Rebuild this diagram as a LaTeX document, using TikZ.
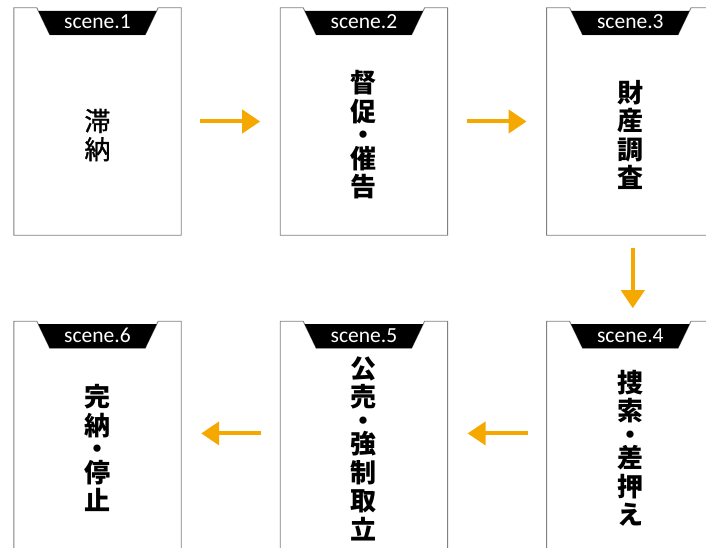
\documentclass[tikz,border=0pt]{standalone}
\usepackage{fontspec}
\setmainfont{Carlito}
\newfontfamily\jpfont{Noto Sans CJK JP}
\newfontfamily\jpmid[FakeBold=1.2]{Noto Sans CJK JP}
\usepackage{tikz}
\usetikzlibrary{%
arrows.meta,%
positioning,%
calc}

\definecolor{flowamber}{RGB}{245,168,0}
\definecolor{framegray}{RGB}{128,128,128}

\tikzset{
  scenebox/.style={rectangle,minimum width=167pt,minimum height=227pt,inner sep=0pt},
  scenetag/.style={text=white,font=\fontsize{21.5}{21.5}\selectfont,inner sep=0pt,anchor=base},
  tate/.style={font=\jpfont\bfseries\fontsize{26}{28.5}\selectfont,align=center,inner sep=0pt},
  flow/.style={draw=flowamber,line width=4pt,-{Triangle[length=18pt,width=23pt]}},
}

\begin{document}
\begin{tikzpicture}[x=1pt,y=-1pt]
\useasboundingbox (0,0) rectangle (706,548);
\clip (0,0) rectangle (706,548);
% the six scenes
\node[scenebox] (b1) at (97.5,121.5) {};
\node[scenebox,right=99pt of b1] (b2) {};
\node[scenebox,right=99pt of b2] (b3) {};
\node[scenebox,below=86pt of b3] (b4) {};
\node[scenebox,left=99pt of b4] (b5) {};
\node[scenebox,left=99pt of b5] (b6) {};
% frames with the cut tab
\foreach \b/\n in {b1/1,b2/2,b3/3,b4/4,b5/5,b6/6}{
  \draw[framegray,line width=0.9pt] ([xshift=23pt]\b.north west) -- (\b.north west)
    -- (\b.south west) -- (\b.south east) -- (\b.north east)
    -- ([xshift=-23pt]\b.north east) -- ([xshift=-36pt,yshift=-27pt]\b.north east)
    -- ([xshift=36pt,yshift=-27pt]\b.north west) -- cycle;
  \fill[black] ([xshift=24.5pt,yshift=-3pt]\b.north west) -- ([xshift=-24.5pt,yshift=-3pt]\b.north east)
    -- ([xshift=-36pt,yshift=-27pt]\b.north east) -- ([xshift=36pt,yshift=-27pt]\b.north west) -- cycle;
  \node[scenetag] (tag\n) at ([yshift=-21pt]\b.north) {scene.\n};
}
% texts
\node[tate,font=\jpmid\fontsize{26}{28.5}\selectfont] (j1) at ([yshift=-13.5pt]b1.center) {滞\\納};
\node[tate] (j2) at ([yshift=-13.5pt]b2.center) {督\\促\\[-5pt]・\\[-5pt]催\\告};
\node[tate] (j3) at ([yshift=-13.5pt]b3.center) {財\\産\\調\\査};
\node[tate] (j4) at ([yshift=-13.5pt]b4.center) {捜\\索\\[-5pt]・\\[-5pt]差\\押\\え};
\node[tate] (j5) at ([yshift=-13.5pt]b5.center) {公\\売\\[-5pt]・\\[-5pt]強\\制\\取\\立};
\node[tate] (j6) at ([yshift=-13.5pt]b6.center) {完\\納\\[-5pt]・\\[-5pt]停\\止};
% arrows
\draw[flow,shorten <=19pt,shorten >=20pt] (b1.east) -- (b2.west);
\draw[flow,shorten <=19pt,shorten >=20pt] (b2.east) -- (b3.west);
\draw[flow,shorten <=13pt,shorten >=13pt] ([xshift=2.5pt]b3.south) -- ([xshift=2.5pt]b4.north);
\draw[flow,shorten <=19pt,shorten >=20pt] ([yshift=1.5pt]b4.west) -- ([yshift=1.5pt]b5.east);
\draw[flow,shorten <=19pt,shorten >=20pt] ([yshift=1.5pt]b5.west) -- ([yshift=1.5pt]b6.east);
\end{tikzpicture}
\end{document}
